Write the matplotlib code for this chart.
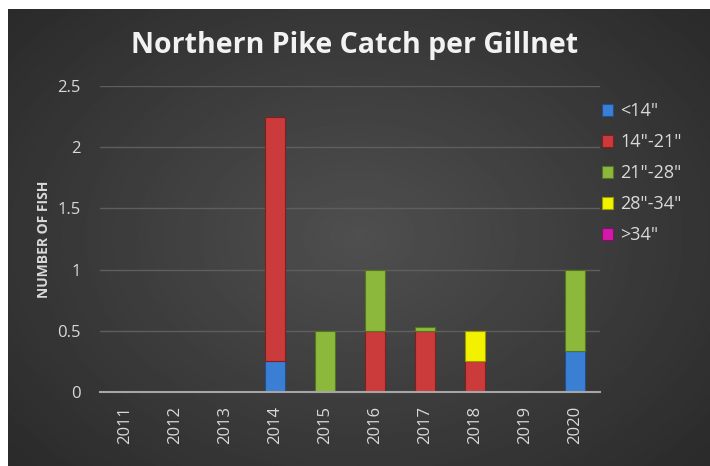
import matplotlib.pyplot as plt
import numpy as np

years = ['2011', '2012', '2013', '2014', '2015', '2016', '2017', '2018', '2019', '2020']
size_classes = ['<14"', '14"-21"', '21"-28"', '28"-34"', '>34"']
lt14 = [0, 0, 0, 0.25, 0, 0, 0, 0, 0, 0.333]
s14_21 = [0, 0, 0, 2.0, 0, 0.5, 0.5, 0.25, 0, 0]
s21_28 = [0, 0, 0, 0, 0.5, 0.5, 0.03, 0, 0, 0.667]
s28_34 = [0, 0, 0, 0, 0, 0, 0, 0.25, 0, 0]
gt34 = [0, 0, 0, 0, 0, 0, 0, 0, 0, 0]

colors = ['#3b7fd4', '#cc3b3b', '#8cb83c', '#f2f200', '#d11aa8']
edges = ['#1f4f8f', '#7f1f1f', '#56741f', '#9a9a00', '#80106a']

plt.rcParams['font.family'] = ['Open Sans', 'DejaVu Sans']

fig = plt.figure(figsize=(7.1, 4.66), dpi=100, facecolor='white')

# фон з радіальним градієнтом
bg = fig.add_axes([8 / 710, 0, 1 - 8 / 710, 1 - 9 / 466])
yy, xx = np.mgrid[-1:1:300j, -1:1:400j]
r = np.sqrt(xx ** 2 + (yy * 0.9) ** 2)
bg.imshow(0.31 - 0.15 * np.clip(r, 0, 1.4) / 1.4, cmap='gray', vmin=0, vmax=1,
          aspect='auto', extent=[0, 1, 0, 1])
bg.axis('off')

ax = fig.add_axes([100 / 710, (466 - 392) / 466, 500 / 710, 306 / 466])
ax.set_facecolor('none')

x = np.arange(len(years))
series = [lt14, s14_21, s21_28, s28_34, gt34]
bottom = np.zeros(len(years))
for vals, name, c, e in zip(series, size_classes, colors, edges):
    lw = [0.8 if v > 0 else 0 for v in vals]
    ax.bar(x, vals, width=0.4, bottom=bottom, color=c, edgecolor=e,
           linewidth=lw, label=name, zorder=3)
    bottom += np.array(vals)

ax.set_xlim(-0.5, 9.5)
ax.set_ylim(0, 2.5)
ax.set_yticks([0, 0.5, 1, 1.5, 2, 2.5])
ax.set_yticklabels(['0', '0.5', '1', '1.5', '2', '2.5'])
ax.set_xticks(x)
ax.set_xticklabels(years, rotation=90)
ax.tick_params(colors='#d9d9d9', labelsize=12, length=0, pad=10)
ax.tick_params(axis='y', pad=14)
ax.grid(axis='y', color='#5e5e5e', linewidth=1, zorder=0)
for s in ['top', 'right', 'left']:
    ax.spines[s].set_visible(False)
ax.spines['bottom'].set_color('#a6a6a6')
ax.spines['bottom'].set_linewidth(1.5)
ax.spines['bottom'].set_zorder(4)

ax.set_ylabel('NUMBER OF FISH', color='#d9d9d9', fontsize=10, fontweight='bold', labelpad=4)

fig.text(0.5, 1 - 45 / 466, 'Northern Pike Catch per Gillnet', ha='center', va='center',
         color='#f2f2f2', fontsize=20.5, fontweight='bold')

leg = ax.legend(loc='upper left', bbox_to_anchor=(0.972, 1.0), frameon=False,
                labelcolor='#d9d9d9', fontsize=13, handlelength=0.6, handleheight=0.6,
                handletextpad=0.4, labelspacing=0.72)
for h in leg.legend_handles:
    h.set_linewidth(0.8)

fig.savefig('out.png', dpi=100, facecolor='white')
